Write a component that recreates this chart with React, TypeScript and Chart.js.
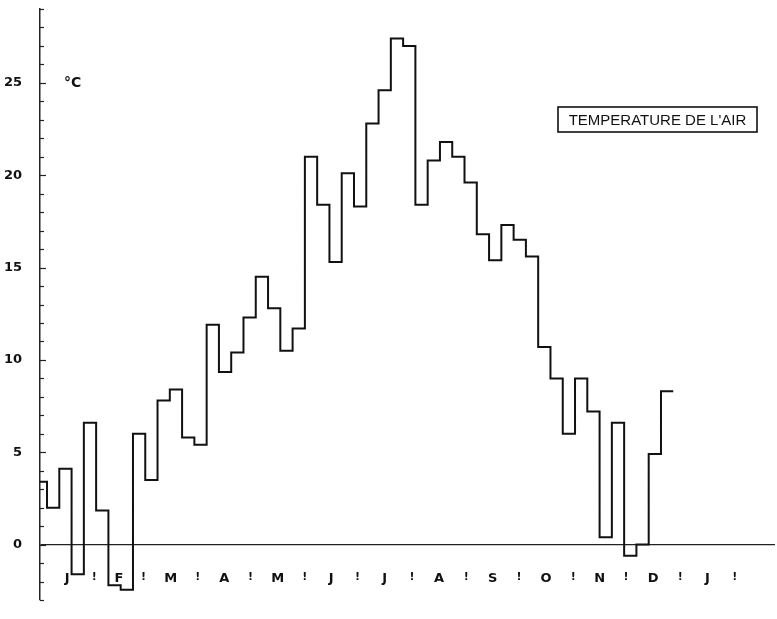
import React, { useEffect, useRef } from "react";
import { Chart, registerables } from "chart.js";

Chart.register(...registerables);

// Day of year (0 = 1 January) at which each weekly value begins; last entry closes the final week
const weekStartDays = [
  0, 4, 11, 18, 25, 32, 39, 46, 53, 60, 67, 74, 81, 88, 95, 102, 109, 116, 123, 130, 137,
  144, 151, 158, 165, 172, 179, 186, 193, 200, 207, 214, 221, 228, 235, 242, 249, 256, 263,
  270, 277, 284, 291, 298, 305, 312, 319, 326, 333, 340, 347, 354, 361,
];

// Weekly mean air temperature (°C)
const airTemperature = [
  3.4, 2.0, 4.1, -1.6, 6.6, 1.85, -2.2, -2.45, 6.0, 3.5, 7.8, 8.4, 5.8, 5.4, 11.9, 9.35,
  10.4, 12.3, 14.5, 12.8, 10.5, 11.7, 21.0, 18.4, 15.3, 20.1, 18.3, 22.8, 24.6, 27.4, 27.0,
  18.4, 20.8, 21.8, 21.0, 19.6, 16.8, 15.4, 17.3, 16.5, 15.6, 10.7, 9.0, 6.0, 9.0, 7.2, 0.4,
  6.6, -0.6, 0.0, 4.9, 8.3,
];

const monthLetters = ["J", "F", "M", "A", "M", "J", "J", "A", "S", "O", "N", "D", "J"];
const monthStartDays = [0, 31, 59, 90, 120, 151, 181, 212, 243, 273, 304, 334, 365, 396];
const yLabelValues = [0, 5, 10, 15, 20, 25];

const unitLabel = "°C";
const boxLabel = "TEMPERATURE DE L'AIR";

export default function App() {
  const canvasRef = useRef<HTMLCanvasElement | null>(null);

  useEffect(() => {
    const canvas = canvasRef.current;
    if (!canvas) return;

    const points = weekStartDays.map((d, i) => ({
      x: d,
      y: airTemperature[Math.min(i, airTemperature.length - 1)],
    }));

    const zeroPad = (scale: any) => {
      scale.paddingTop = 0;
      scale.paddingBottom = 0;
      scale.paddingLeft = 0;
      scale.paddingRight = 0;
    };

    const decorPlugin = {
      id: "decor",
      afterDraw(chart: any) {
        const ctx = chart.ctx;
        const y = chart.scales.y;
        const x = chart.scales.x;
        const x0 = chart.chartArea.left;
        ctx.save();
        // inner tick marks on the temperature axis
        ctx.strokeStyle = "#222";
        ctx.lineWidth = 1.2;
        for (let v = Math.ceil(y.min); v <= y.max; v++) {
          const py = Math.round(y.getPixelForValue(v)) + 0.5;
          const len = v % 5 === 0 ? 6 : 4;
          ctx.beginPath();
          ctx.moveTo(x0, py);
          ctx.lineTo(x0 + len, py);
          ctx.stroke();
        }
        // month letters and month separators
        const labelY = y.getPixelForValue(-1.85);
        ctx.fillStyle = "#111";
        ctx.textAlign = "center";
        ctx.textBaseline = "middle";
        monthLetters.forEach((letter, i) => {
          const c = (monthStartDays[i] + monthStartDays[i + 1]) / 2;
          ctx.font = "bold 13px 'DejaVu Sans', sans-serif";
          ctx.fillText(letter, x.getPixelForValue(c), labelY);
          ctx.font = "bold 11px 'DejaVu Sans', sans-serif";
          ctx.fillText("!", x.getPixelForValue(monthStartDays[i + 1]), labelY - 2);
        });
        // unit label
        ctx.font = "bold 14px 'DejaVu Sans', sans-serif";
        ctx.textAlign = "left";
        ctx.fillText(unitLabel, x0 + 24, y.getPixelForValue(25));
        // title box
        ctx.font = "15px 'Liberation Sans', Arial, sans-serif";
        const bx = 558, by = 107, bw = 199, bh = 25;
        ctx.lineWidth = 1.6;
        ctx.strokeStyle = "#111";
        ctx.strokeRect(bx, by, bw, bh);
        ctx.textAlign = "center";
        ctx.fillText(boxLabel, bx + bw / 2, by + bh / 2 + 1);
        ctx.restore();
      },
    };

    const chart = new Chart(canvas, {
      type: "line",
      data: {
        datasets: [
          {
            data: points,
            stepped: true,
            borderColor: "#111",
            borderWidth: 2,
            pointRadius: 0,
            fill: false,
          },
        ],
      },
      options: {
        animation: false,
        responsive: true,
        maintainAspectRatio: false,
        layout: { padding: { top: 9, right: 2, left: 0, bottom: 0 } },
        plugins: {
          legend: { display: false },
          tooltip: { enabled: false },
          title: { display: false },
        },
        scales: {
          x: {
            type: "linear",
            min: 0,
            max: 419,
            afterFit: (scale: any) => {
              scale.height = 19;
              zeroPad(scale);
            },
            grid: { display: false, drawTicks: false },
            border: { display: false },
            ticks: { display: false },
          },
          y: {
            type: "linear",
            min: -3,
            max: 29,
            afterFit: (scale: any) => {
              scale.width = 40;
              zeroPad(scale);
            },
            afterBuildTicks: (scale: any) => {
              const t: any[] = [];
              for (let v = -3; v <= 29; v++) t.push({ value: v });
              scale.ticks = t;
            },
            grid: {
              display: true,
              drawTicks: false,
              tickLength: 0,
              color: (c: any) => (c.tick && c.tick.value === 0 ? "#222" : "rgba(0,0,0,0)"),
              lineWidth: 1.3,
            },
            border: { display: true, color: "#222", width: 1.5 },
            ticks: {
              autoSkip: false,
              padding: 18,
              color: "#111",
              font: { family: "'DejaVu Sans', sans-serif", size: 13, weight: "bold" },
              callback: (v: any) => (yLabelValues.includes(Number(v)) ? String(v) : ""),
            },
          },
        },
      },
      plugins: [decorPlugin],
    });

    return () => chart.destroy();
  }, []);

  return (
    <div style={{ position: "absolute", left: 0, top: 0, width: 777, height: 619, background: "#fff" }}>
      <canvas ref={canvasRef} />
    </div>
  );
}
